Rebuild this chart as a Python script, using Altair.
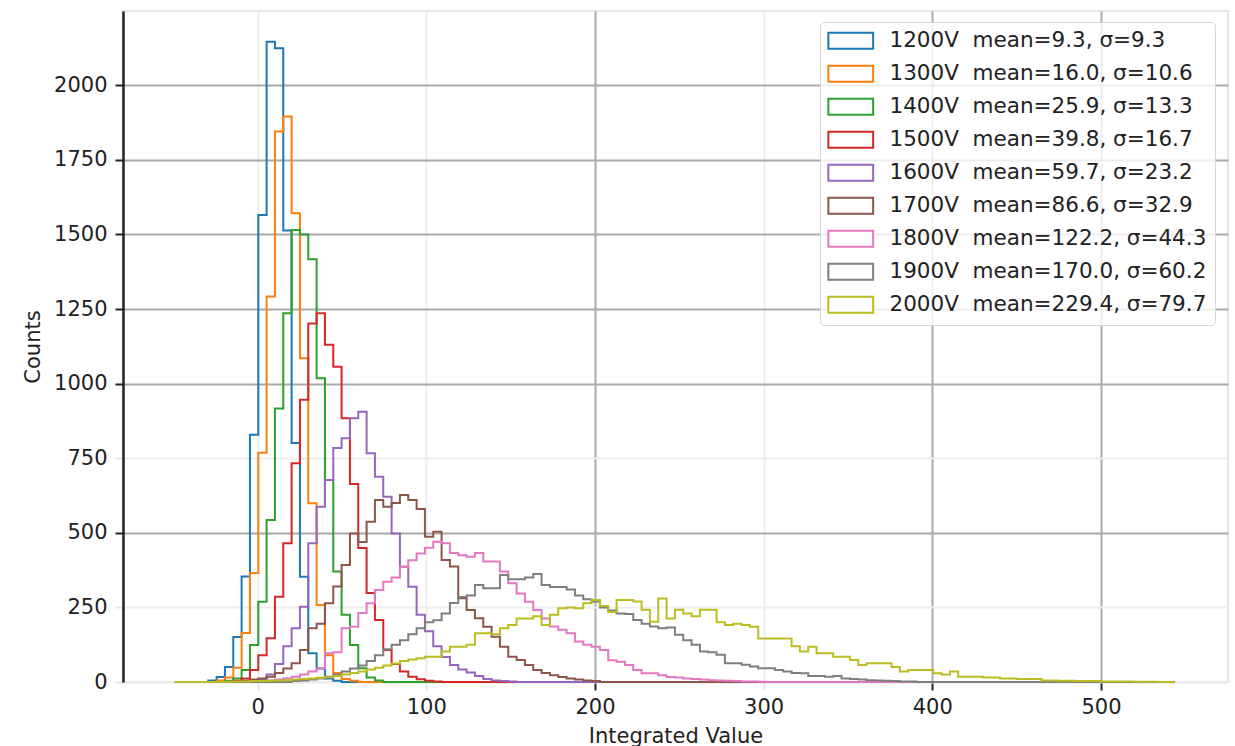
import numpy as np
import pandas as pd
import altair as alt

# Common binning shared by every histogram
BIN_LO, BIN_HI, N_BINS = -49.0, 543.8, 120

VOLTAGES = ["1200V", "1300V", "1400V", "1500V", "1600V", "1700V", "1800V", "1900V", "2000V"]
MEANS = [9.3, 16.0, 25.9, 39.8, 59.7, 86.6, 122.2, 170.0, 229.4]
SIGMAS = [9.3, 10.6, 13.3, 16.7, 23.2, 32.9, 44.3, 60.2, 79.7]
COLORS = ["#1f77b4", "#ff7f0e", "#2ca02c", "#d62728", "#9467bd",
          "#8c564b", "#e377c2", "#7f7f7f", "#bcbd22"]

# index of the first non-empty bin of each histogram
FIRST_BIN = [4, 5, 6, 7, 9, 8, 10, 14, 5]

COUNTS_1200V = [5, 17, 50, 151, 354, 829, 1565, 2146, 2124, 1513, 801, 353, 96, 45, 12, 4]
COUNTS_1300V = [5, 15, 48, 164, 365, 768, 1292, 1845, 1895, 1571, 1085, 599, 258, 90, 30, 10, 4]
COUNTS_1400V = [4, 12, 40, 124, 269, 543, 917, 1236, 1515, 1500, 1417, 1018, 677, 370, 225,
                124, 46, 15, 5]
COUNTS_1500V = [4, 12, 40, 90, 147, 286, 465, 733, 946, 1202, 1236, 1130, 1057, 884, 664,
                449, 298, 208, 107, 60, 35, 18, 9, 4, 2]
COUNTS_1600V = [4, 10, 25, 60, 120, 180, 252, 465, 587, 677, 784, 817, 884, 906, 767, 688,
                621, 498, 386, 319, 225, 170, 120, 84, 57, 42, 32, 20, 10, 5, 3, 2]
COUNTS_1700V = [5, 8, 12, 18, 30, 45, 63, 107, 180, 195, 264, 320, 392, 498, 469, 537, 610,
                587, 600, 627, 610, 580, 487, 504, 409, 387, 281, 241, 214, 185, 152, 118,
                85, 74, 57, 40, 30, 23, 17, 12, 8, 5, 3]
COUNTS_1800V = [3, 5, 8, 12, 18, 25, 35, 45, 96, 100, 180, 185, 231, 264, 308, 336, 350, 386,
                408, 431, 450, 470, 465, 432, 425, 420, 432, 404, 404, 370, 331, 297, 269,
                241, 213, 186, 175, 163, 136, 125, 118, 107, 73, 68, 57, 40, 29, 29, 23, 17,
                15, 12, 10, 8, 6, 5, 4, 3, 2, 2, 1]
COUNTS_1900V = [3, 5, 8, 12, 18, 25, 35, 45, 55, 70, 90, 110, 125, 140, 160, 180, 200, 207,
                230, 265, 285, 290, 325, 314, 314, 359, 344, 344, 350, 362, 325, 318, 318,
                310, 290, 277, 270, 250, 240, 230, 228, 208, 195, 186, 180, 183, 158, 140,
                125, 102, 100, 91, 63, 63, 58, 52, 46, 46, 40, 35, 30, 29, 20, 20, 18, 20,
                12, 10, 8, 6, 5, 4, 3, 2, 2]
COUNTS_2000V = [1, 1, 2, 2, 3, 3, 4, 5, 6, 8, 10, 12, 14, 16, 20, 25, 30, 35, 42, 48, 55, 62,
                70, 75, 80,
                85, 85, 102, 118, 118, 125, 163, 163, 160, 180,
                191, 213, 213, 220, 191, 225, 247, 250, 247, 264,
                275, 255, 235, 275, 275, 270, 242, 202, 280, 213,
                242, 230, 220, 242, 242, 200, 191, 195, 191, 185,
                146, 146, 146, 146, 120, 102, 118, 96, 96, 85,
                85, 74, 57, 63, 63, 63, 50, 35, 40, 40,
                40, 29, 25, 35, 18, 18, 18, 15, 15, 12,
                12, 10, 10, 10, 5, 5, 4, 4, 3, 3, 3, 2, 2, 2, 2, 1, 1, 1]

ALL_COUNTS = [COUNTS_1200V, COUNTS_1300V, COUNTS_1400V, COUNTS_1500V, COUNTS_1600V,
              COUNTS_1700V, COUNTS_1800V, COUNTS_1900V, COUNTS_2000V]

X_TICKS = [0, 100, 200, 300, 400, 500]
Y_TICKS = [0, 250, 500, 750, 1000, 1250, 1500, 1750, 2000]

edges = np.linspace(BIN_LO, BIN_HI, N_BINS + 1)
labels = [f"{v}\u00a0 mean={m:.1f}, \u03c3={s:.1f}" for v, m, s in zip(VOLTAGES, MEANS, SIGMAS)]

# Outline of each step histogram: up from zero at the first edge, across every bin,
# back down to zero at the last edge.
rows = []
for label, first, counts in zip(labels, FIRST_BIN, ALL_COUNTS):
    full = np.zeros(N_BINS)
    full[first:first + len(counts)] = counts
    k = 0
    rows.append({"series": label, "x": edges[0], "y": 0.0, "k": k})
    for j in range(N_BINS):
        k += 1
        rows.append({"series": label, "x": edges[j], "y": full[j], "k": k})
    rows.append({"series": label, "x": edges[-1], "y": 0.0, "k": k + 1})
df = pd.DataFrame(rows)

FONT = "DejaVu Sans"
DARK_GRID = "#a9a9a9"
FAINT_GRID = "#eeeeee"

x_axis = alt.Axis(
    values=X_TICKS, title="Integrated Value", format="d",
    grid=True, gridWidth=2,
    gridColor={"condition": {"test": "datum.value == 200 || datum.value >= 400",
                             "value": DARK_GRID}, "value": FAINT_GRID},
    tickColor={"condition": {"test": "datum.value == 200 || datum.value >= 400",
                             "value": "#222222"}, "value": "#e6e6e6"},
    tickSize=8, tickWidth=2, labelPadding=6,
    domainColor="#ececec", domainWidth=2,
    labelFont=FONT, labelFontSize=21, labelColor="#222222",
    titleFont=FONT, titleFontSize=21, titleFontWeight="normal", titleColor="#222222",
    titlePadding=8,
)
y_axis = alt.Axis(
    values=Y_TICKS, title="Counts", format="d",
    grid=True, gridWidth=2,
    gridColor={"condition": {"test": "datum.value == 250 || datum.value == 750 || datum.value == 0",
                             "value": FAINT_GRID}, "value": DARK_GRID},
    tickColor={"condition": {"test": "datum.value == 250 || datum.value == 750 || datum.value == 0",
                             "value": "#e6e6e6"}, "value": "#222222"},
    tickSize=8, tickWidth=2, labelPadding=8,
    domainColor="#222222", domainWidth=2.5,
    labelFont=FONT, labelFontSize=21, labelColor="#222222",
    titleFont=FONT, titleFontSize=21, titleFontWeight="normal", titleColor="#222222",
    titlePadding=10,
)

# Legend handles are open rectangles outlined in each series colour
legend = alt.Legend(
    title=None, orient="none", legendX=697, legendY=11,
    symbolType="M-2.8,-1H2.8V1H-2.8Z", symbolSize=256, symbolStrokeWidth=2,
    symbolFillColor="white", symbolOffset=12,
    labelFont=FONT, labelFontSize=21.5, labelColor="#222222", labelLimit=420,
    labelOffset=28, rowPadding=8.0, padding=8,
    strokeColor="#d6d6d6", fillColor="rgba(255,255,255,0.8)", cornerRadius=4,
)

chart = alt.Chart(df).mark_line(interpolate="step-after", strokeWidth=2).encode(
    x=alt.X("x:Q", scale=alt.Scale(domain=[-79.8, 575.3], nice=False, zero=False), axis=x_axis),
    y=alt.Y("y:Q", scale=alt.Scale(domain=[0, 2249], nice=False), axis=y_axis),
    color=alt.Color("series:N", scale=alt.Scale(domain=labels, range=COLORS), legend=legend),
    order=alt.Order("k:Q"),
    detail="series:N",
).properties(
    width=1105, height=671,
    autosize=alt.AutoSizeParams(type="none"),
    padding={"left": 123, "top": 11, "right": 7, "bottom": 64},
    background="white",
).configure_view(
    stroke="#e6e6e6", strokeWidth=2,
)

chart.save("out.html", embed_options={"renderer": "svg", "actions": False})
